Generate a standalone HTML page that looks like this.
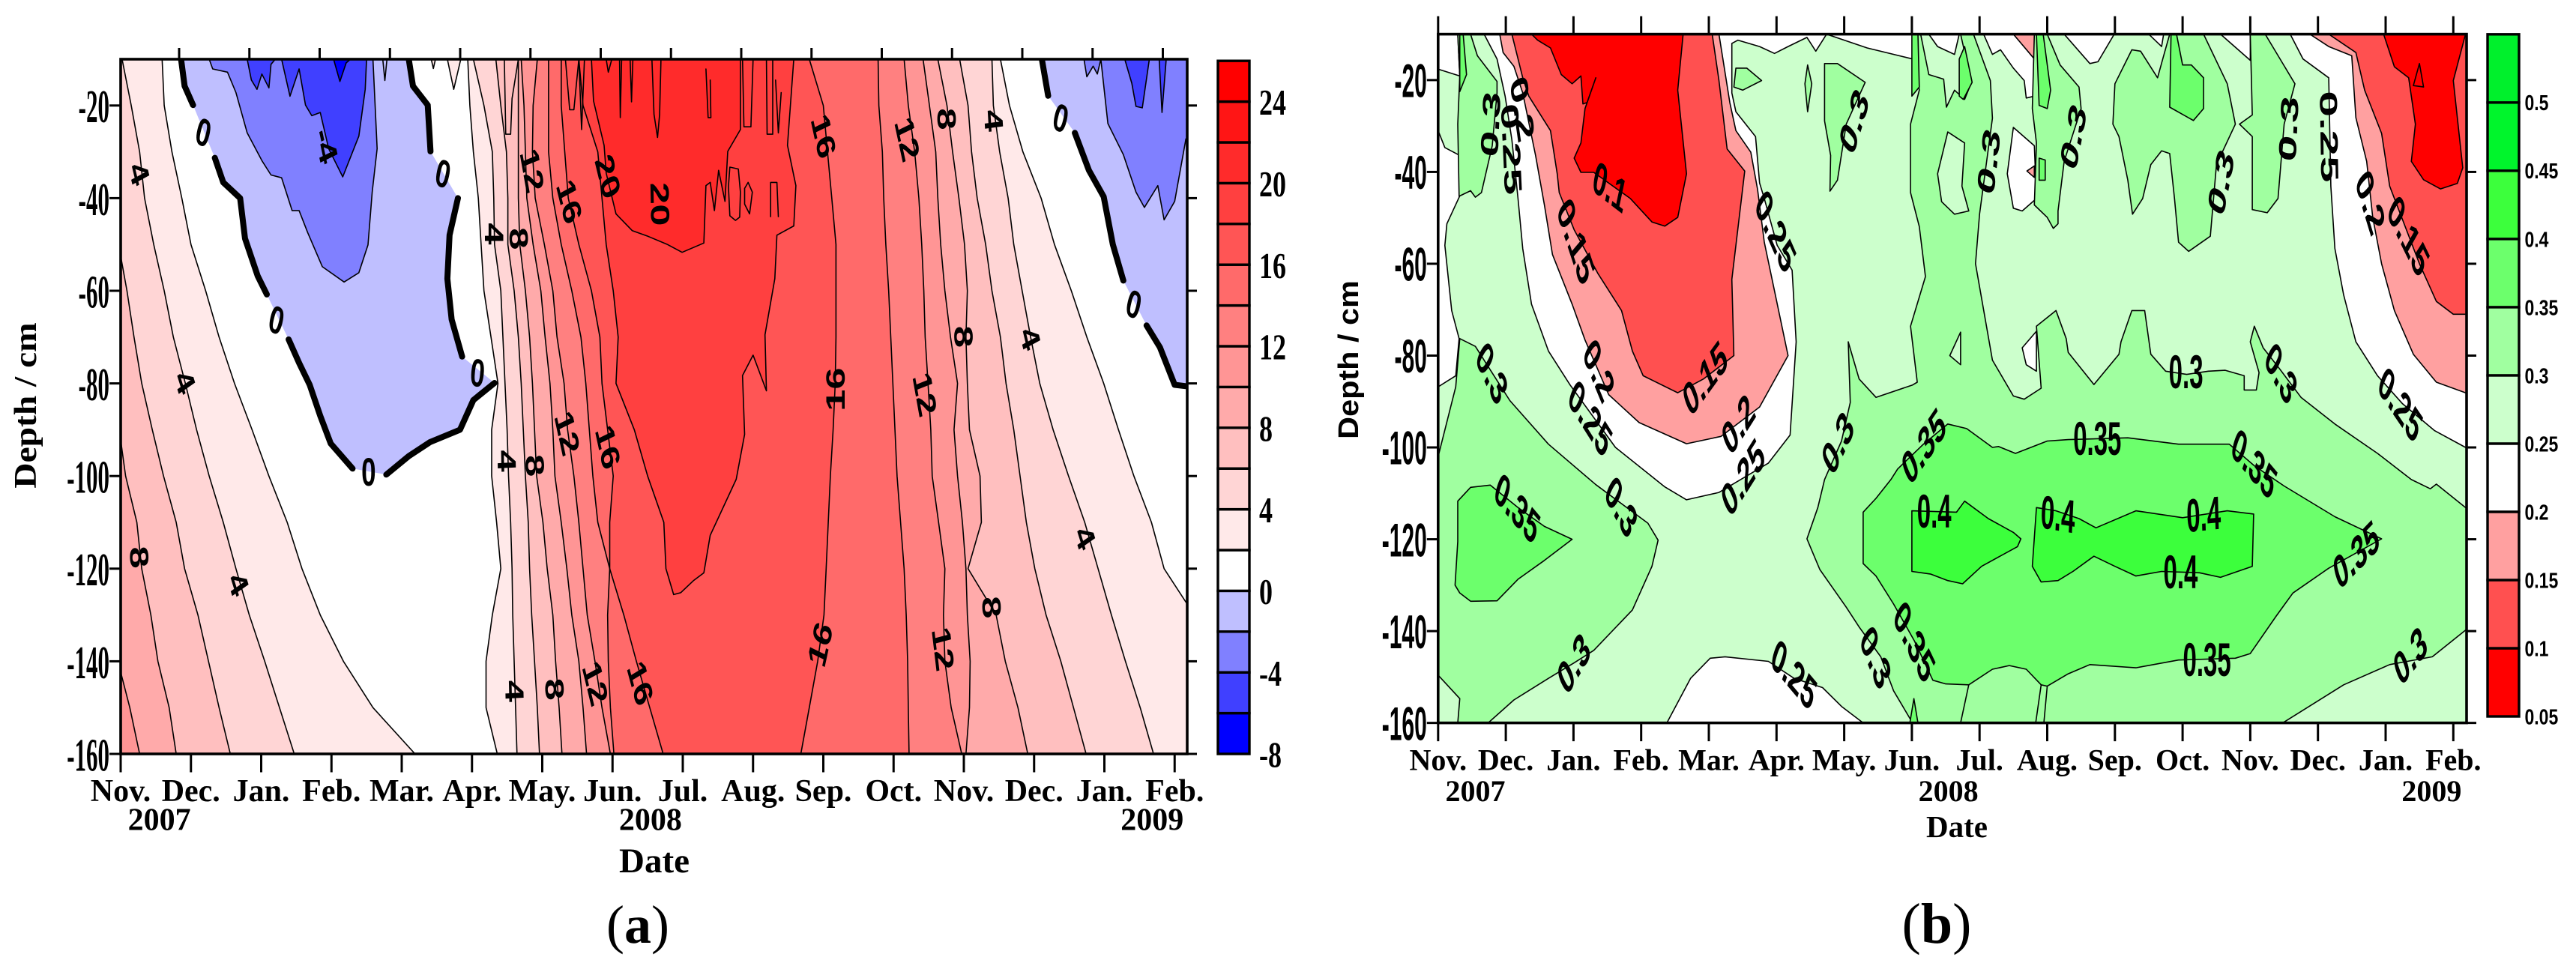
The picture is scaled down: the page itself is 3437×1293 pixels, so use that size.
<!DOCTYPE html>
<html lang="en">
<head>
<meta charset="utf-8">
<title>Soil temperature and moisture contour charts</title>
<style>
html,body{margin:0;padding:0;background:#fff;}
svg{display:block;}
.serif{font-family:"Liberation Serif",serif;font-weight:700;fill:#000;}
.sans{font-family:"Liberation Sans",sans-serif;font-weight:700;fill:#000;}
</style>
</head>
<body>
<svg id="fig" xmlns="http://www.w3.org/2000/svg" width="3437" height="1293" viewBox="0 0 3437 1293">
  <defs>
    <clipPath id="clipA"><rect x="161" y="79" width="1423" height="927"/></clipPath>
    <clipPath id="clipB"><rect x="1918.8" y="45.6" width="1372.2" height="919"/></clipPath>
  </defs>
  <g id="panelA"></g>
  <g id="panelB"></g>
  <text class="serif" font-size="42" text-anchor="middle" transform="translate(48,541) rotate(-90) scale(1.13,1)">Depth / cm</text>
  <text class="serif" font-size="47" x="873" y="1164" text-anchor="middle">Date</text>
  <text class="sans" font-size="38" text-anchor="middle" transform="translate(1812,480) rotate(-90) scale(1.09,1)">Depth / cm</text>
  <text class="serif" font-size="41" x="2611" y="1117" text-anchor="middle">Date</text>
  <text x="851" y="1258" text-anchor="middle" font-size="72" font-family="Liberation Serif, serif">(<tspan font-weight="700">a</tspan>)</text>
  <text x="2584" y="1258" text-anchor="middle" font-size="76" font-family="Liberation Serif, serif">(<tspan font-weight="700">b</tspan>)</text>
</svg>
<script>
/* ---------- shared axis data ---------- */
const monthLabels = ['Nov.','Dec.','Jan.','Feb.','Mar.','Apr.','May.','Jun.','Jul.','Aug.','Sep.','Oct.','Nov.','Dec.','Jan.','Feb.'];
const yearLabels = ['2007','2008','2009'];
const yearMonths = [0.55,7.54,14.68];
const depthTicks = [-20,-40,-60,-80,-100,-120,-140,-160];
const depthRows = [-10,-20,-30,-40,-50,-60,-70,-80,-90,-100,-110,-120,-130,-140,-150,-160];

/* ---------- panel (a): temperature ---------- */
const tempTicks = [-8,-4,0,4,8,12,16,20,24];
const tempLevels = [-8,-6,-4,-2,0,2,4,6,8,10,12,14,16,18,20,22,24,26];
const tempColors = ['#0000ff','#4040ff','#8080ff','#bfbfff','#ffffff','#ffe9e9','#ffd5d5','#ffbfbf','#ffaaaa','#ff9595','#ff8080','#ff6a6a','#ff5555','#ff4040','#ff2b2b','#ff1515','#ff0000'];

/* month position of each isotherm at every depth row: autumn-2007 cooling limb */
const coolT2 = [0.59,0.62,0.73,0.87,1.00,1.21,1.40,1.62,1.87,2.11,2.37,2.58,2.84,3.17,3.59,4.19];
const coolT4 = [0.02,0.15,0.27,0.34,0.47,0.62,0.75,0.92,1.08,1.26,1.46,1.64,1.83,2.05,2.26,2.47];
const coolT6 = [-1,-0.8,-0.5,-0.25,-0.03,0.09,0.19,0.30,0.45,0.61,0.79,0.91,1.10,1.25,1.40,1.56];
const coolT8 = [-2,-2,-1.6,-1.4,-1.2,-0.9,-0.6,-0.3,-0.02,0.07,0.23,0.30,0.43,0.53,0.69,0.79];
const coolT10 = [-3,-3,-3,-3,-3,-3,-3,-2,-2,-1.5,-1,-0.6,-0.2,-0.04,0.13,0.27];
/* spring-2008 warming limb */
const warmT2 = [4.94,4.97,5.02,5.09,5.13,5.17,5.27,5.37,5.28,5.28,5.35,5.41,5.29,5.20,5.20,5.36];
const warmT4 = [5.02,5.17,5.29,5.31,5.32,5.41,5.44,5.47,5.50,5.52,5.55,5.57,5.58,5.60,5.62,5.64];
const warmT6 = [5.34,5.41,5.49,5.51,5.51,5.60,5.66,5.70,5.73,5.76,5.80,5.82,5.85,5.89,5.93,5.96];
const warmT8 = [5.66,5.66,5.66,5.66,5.68,5.76,5.82,5.86,5.89,5.92,6.01,6.07,6.15,6.19,6.24,6.28];
const warmT10 = [5.70,5.74,5.76,5.78,5.87,5.98,6.04,6.11,6.15,6.18,6.27,6.35,6.42,6.52,6.58,6.63];
const warmT12 = [5.93,5.87,5.86,5.90,6.03,6.15,6.21,6.31,6.36,6.45,6.52,6.58,6.64,6.75,6.85,6.97];
const warmT14 = [6.09,6.09,6.09,6.15,6.27,6.42,6.55,6.62,6.67,6.72,6.79,6.96,6.93,6.94,6.97,7.02];
const warmT16 = [6.27,6.27,6.32,6.37,6.52,6.70,6.82,6.85,6.93,7.01,6.96,6.96,7.16,7.34,7.53,7.72];
/* autumn-2008 cooling limb */
const fallT2 = [12.52,12.65,12.84,13.10,13.29,13.53,13.75,13.99,14.20,14.42,14.67,14.85,15.28,15.62,15.98,16.35];
const fallT4 = [12.40,12.42,12.51,12.63,12.71,12.83,12.95,13.08,13.27,13.49,13.72,13.91,14.10,14.30,14.51,14.70];
const fallT6 = [11.94,12.06,12.11,12.19,12.31,12.40,12.52,12.60,12.71,12.80,12.89,13.01,13.17,13.38,13.56,13.74];
const fallT8 = [11.63,11.76,11.84,11.93,12.01,12.05,12.03,12.05,12.08,12.23,12.25,12.06,12.46,12.59,12.77,12.91];
const fallT10 = [11.42,11.51,11.60,11.63,11.67,11.73,11.81,11.91,11.86,11.91,11.98,12.03,12.05,12.09,12.08,12.03];
const fallT12 = [11.15,11.21,11.30,11.36,11.40,11.43,11.45,11.49,11.53,11.55,11.64,11.73,11.71,11.73,11.82,11.97];
const fallT14 = [10.78,10.79,10.84,10.86,10.89,10.93,10.96,10.99,11.02,11.05,11.10,11.15,11.18,11.20,11.21,11.22];
const fallT16 = [9.80,10.00,10.06,10.12,10.18,10.18,10.18,10.17,10.14,10.10,10.07,10.04,10.01,9.92,9.80,9.68];
/* closed warm cores, as [month, depth] */
const coreT18 = [[6.52,-10],[6.58,-20],[6.79,-30],[6.85,-40],[6.91,-50],[7.01,-60],[7.08,-70],[7.05,-80],[7.31,-90],[7.50,-100],[7.73,-110],[7.76,-120],[7.87,-125.6],[7.97,-125.2],[8.15,-122.6],[8.30,-120.9],[8.39,-112.8],[8.76,-100.7],[8.88,-91],[8.85,-78.3],[9.00,-73.9],[9.19,-81.6],[9.17,-69.5],[9.31,-57.4],[9.34,-48],[9.58,-46],[9.61,-37.3],[9.49,-28.6],[9.58,-10]];
const coreT20 = [[6.70,-10],[6.73,-19],[6.88,-28.6],[6.91,-34.6],[7.05,-43.4],[7.28,-47],[7.50,-48.2],[7.53,-48.4],[7.78,-50],[7.99,-51.7],[8.30,-49.7],[8.33,-37.3],[8.39,-36.6],[8.45,-42.7],[8.51,-34],[8.60,-40.7],[8.64,-29.9],[8.82,-25.2],[8.82,-10]];
const springSpike = [[4.65,-10],[4.74,-16.5],[4.84,-10]];
const springSpikeSmall = [[4.42,-10],[4.45,-12],[4.48,-10]];
/* 0 degree isotherm pieces, label gaps between them */
const frostWinterA = [[0.86,-10],[0.91,-15.8],[1.03,-19.9]];
const frostWinterB = [[1.34,-31.3],[1.46,-36.6],[1.70,-40],[1.77,-48.7],[1.95,-56.8],[2.08,-60.8]];
const frostWinterC = [[2.39,-70.5],[2.54,-75.6],[2.69,-80.3],[2.84,-87],[2.99,-93],[3.30,-98.4]];
const frostWinterD = [[3.78,-99.7],[4.10,-95.7],[4.40,-92.7],[4.83,-90],[5.02,-83.6],[5.32,-79.9]];
const frostWinterE = [[4.86,-74.2],[4.71,-66.2],[4.65,-57.4],[4.68,-48],[4.80,-40]];
const frostWinterF = [[4.41,-29.9],[4.37,-19.9],[4.16,-15.8],[4.10,-10]];
const frostNextA = [[13.11,-10],[13.20,-17.9]];
const frostNextB = [[13.58,-25.9],[13.78,-34],[13.99,-39.7],[14.12,-50],[14.27,-57.8]];
const frostNextC = [[14.60,-67.5],[14.79,-72.2],[15.00,-80.3],[15.16,-80.6]];
/* sub-zero regions */
const coldM2 = [[1.26,-10],[1.31,-12.1],[1.52,-12.8],[1.64,-17.2],[1.80,-25.9],[2.01,-31.9],[2.14,-35],[2.29,-35.6],[2.44,-42.7],[2.54,-42.7],[2.66,-47.4],[2.87,-54.8],[3.18,-58.1],[3.39,-56.1],[3.52,-50.1],[3.58,-38.7],[3.65,-29.3],[3.59,-10]];
const coldM4a = [[1.80,-10],[1.86,-14.5],[1.94,-16.5],[2.01,-13.2],[2.11,-16.2],[2.14,-11.1],[2.20,-10]];
const coldM4b = [[2.29,-10],[2.41,-18],[2.54,-12.1],[2.63,-19.9],[2.72,-22.2],[2.84,-21.5],[2.96,-29.3],[3.16,-35.4],[3.39,-26.6],[3.48,-16.5],[3.50,-10]];
const coldM6 = [[3.03,-10],[3.12,-14.8],[3.21,-10.8],[3.27,-10]];
const nextM2 = [[13.95,-10],[14.05,-23.9],[14.27,-30.6],[14.45,-38.7],[14.57,-42],[14.76,-37.3],[14.85,-44.7],[15.00,-40.7],[15.16,-27.2],[15.4,-27],[15.4,-10]];
const nextM2Patch = [[13.71,-10],[13.75,-13.8],[13.84,-11.5],[13.90,-13.2],[13.95,-10]];
const nextM4a = [[14.29,-10],[14.39,-15.2],[14.45,-20.2],[14.54,-20.5],[14.64,-10]];
const nextM4b = [[14.78,-10],[14.82,-21.5],[14.88,-10]];
/* short near-surface contour fragments */
const tempFragments = [
  [[8.67,-33.3],[8.79,-33.7],[8.82,-38.7],[8.81,-44.1],[8.75,-44.8],[8.67,-43.8],[8.65,-37.5],[8.67,-33.3]],
  [[8.93,-36.6],[8.99,-38.7],[8.95,-43.4],[8.88,-41.3],[8.88,-37.9],[8.93,-36.6]],
  [[9.25,-44],[9.25,-36.6],[9.34,-36.6],[9.36,-44]],
  [[8.85,-10],[8.87,-24.6],[8.97,-24.6],[9.00,-10]],
  [[9.19,-10],[9.20,-26.2],[9.28,-26.2],[9.28,-10]],
  [[9.32,-14.5],[9.36,-25.9],[9.40,-17.2]],
  [[7.56,-10],[7.59,-21.9],[7.64,-26.9],[7.67,-21.9],[7.69,-10]],
  [[8.33,-12.1],[8.36,-22.6],[8.40,-22.6],[8.39,-14.5]],
  [[6.33,-10],[6.39,-20.9],[6.45,-20.9],[6.52,-10]],
  [[6.52,-10],[6.56,-25.2],[6.60,-10]],
  [[7.10,-10],[7.11,-22.6],[7.13,-10]],
  [[7.25,-10],[7.27,-19.2],[7.29,-10]],
  [[6.91,-10],[6.94,-12.8],[6.99,-10]],
  [[5.46,-10],[5.48,-26.2],[5.55,-26.2],[5.57,-18.5],[5.66,-10]],
  [[3.73,-10],[3.76,-14.6],[3.79,-10]]
];
const tempLabelText = ['4','4','8','4','0','0','0','0','0','0','0','-4','4','8','12','16','20','20','4','8','12','16','4','8','12','16','16','12','8','4','16','12','8','4','16','12','8','4'];
const tempLabelMonth = [0.27,0.92,0.27,1.68,1.18,2.22,3.53,5.08,4.59,13.38,14.42,2.93,5.32,5.67,5.86,6.39,6.94,7.68,5.50,5.90,6.36,6.94,5.61,6.18,6.76,7.40,10.01,11.20,11.76,12.43,10.17,11.45,12.00,12.95,9.95,11.71,12.40,13.73];
const tempLabelDepth = [-34.6,-79.6,-117.5,-123.2,-25.7,-66.2,-99,-77.6,-34.6,-22.6,-62.8,-28.6,-47.7,-48.7,-34,-40.7,-35.3,-41.3,-96.7,-97.7,-90.7,-93.7,-146.4,-146,-144.7,-144.7,-26.6,-27.2,-22.9,-23.2,-81.3,-82.3,-69.9,-70.2,-136.3,-137.3,-128.3,-113.2];
const tempLabelAngle = [70,65,85,65,20,20,0,8,18,20,20,72,90,85,75,70,70,88,88,85,72,72,88,85,70,68,72,72,88,85,-90,75,88,70,-72,80,85,65];

/* ---------- panel (b): soil moisture ---------- */
const moistTicks = [0.05,0.1,0.15,0.2,0.25,0.3,0.35,0.4,0.45,0.5];
const moistLevels = [0.05,0.1,0.15,0.2,0.25,0.3,0.35,0.4,0.45,0.5,0.55];
const moistColors = ['#ff0000','#ff5050','#ffa0a0','#ffffff','#ccffcc','#a0ffa0','#6cff6c','#3cff3c','#00f52c','#00f02c'];
const dryTopLeft = [[0,-10],[0.29,-10],[0.32,-19.1],[0,-17.6]];
const dryLeft = [[0,-31],[0.10,-34.7],[0.32,-36.4],[0.32,-45.2],[0.13,-51.3],[0.10,-56],[0.20,-70.2],[0.31,-76.3],[0.26,-84.4],[0,-86.8]];
const dryU = [[0.68,-10],[0.87,-15.4],[0.99,-23.5],[1.09,-33],[1.18,-45.8],[1.25,-56.7],[1.38,-68.8],[1.63,-79],[1.95,-86.4],[2.62,-100],[3.35,-108.6],[3.67,-111.4],[4.15,-109.8],[4.88,-103.4],[5.20,-97.3],[5.29,-77],[5.23,-61.4],[5.01,-56],[4.82,-45.8],[4.75,-42.4],[4.69,-32.3],[4.40,-26.9],[4.34,-22.8],[4.34,-12],[4.43,-11.3],[4.75,-12.7],[4.97,-14.2],[5.17,-12.7],[5.45,-10.7],[5.58,-13.7],[5.74,-10],[6.34,-13],[7.01,-15.4],[7.01,-10]];
const dryArch = [[3.38,-160],[3.73,-150.3],[4.02,-145.9],[4.24,-145.6],[4.88,-146.6],[5.26,-150.3],[5.68,-152.3],[5.96,-156.4],[6.28,-160]];
const dryStrip1 = [[7.25,-10],[7.38,-12.7],[7.63,-14.4],[7.70,-10]];
const dryStrip2 = [[8.06,-10],[8.19,-14.4],[8.31,-13.4],[8.50,-17.4],[8.66,-20.1],[8.69,-23.9],[8.81,-23.5],[8.81,-10]];
const dryStrip3 = [[9.25,-10],[9.63,-16.4],[9.75,-16],[9.99,-10]];
const dryStrip4 = [[10.5,-10],[10.69,-12.7],[10.72,-10]];
const dryStrip5 = [[11.56,-10],[12,-15.7],[12,-10]];
const dryPocket1 = [[8.5,-30.3],[8.81,-34.3],[8.84,-45.8],[8.63,-48.5],[8.5,-47.9],[8.41,-40.4]];
const dryPocket2 = [[8.84,-74.7],[8.63,-78.3],[8.69,-82],[8.84,-83.4]];
const dryRight = [[12.59,-10],[12.78,-15.4],[13.16,-19.5],[13.19,-43.1],[13.25,-56.7],[13.38,-66.8],[13.56,-77],[13.88,-84.4],[14.25,-90.5],[14.72,-96.3],[15.18,-100],[15.4,-100],[15.4,-10]];
const below20U = [[0.91,-10],[0.96,-14],[1.12,-17],[1.25,-22.8],[1.44,-36.4],[1.57,-47.2],[1.69,-58],[1.98,-68.8],[2.17,-76.6],[2.52,-88.5],[2.97,-94.6],[3.67,-99.2],[4.18,-97.6],[4.75,-91.2],[5.17,-80],[4.82,-55.3],[4.72,-43.8],[4.62,-35.7],[4.40,-31],[4.31,-24.9],[4.15,-10]];
const below20Tip = [[8.5,-10],[8.81,-10],[8.81,-15.4]];
const below20Dot = [[8.7,-39.8],[8.81,-38.7],[8.81,-41.2]];
const below20Right = [[12.88,-10],[13.16,-12.7],[13.5,-14.7],[13.56,-28.2],[13.72,-37.7],[13.81,-49.9],[13.94,-60],[14.13,-70.2],[14.41,-79.7],[14.75,-85.8],[15.18,-88.1],[15.4,-88.1],[15.4,-10]];
const below15U = [[1.09,-10],[1.25,-19.5],[1.34,-23.5],[1.66,-31],[1.76,-40.4],[1.79,-44.5],[2.01,-52.6],[2.36,-62.1],[2.71,-70.2],[2.87,-79],[3.03,-84.4],[3.54,-88.1],[3.92,-85.1],[4.37,-80],[4.34,-63.4],[4.53,-39.8],[4.27,-35],[4.15,-20.1],[4.05,-10]];
const below15Right = [[13.16,-10],[13.56,-14],[13.69,-22.2],[13.94,-31.6],[14.06,-43.1],[14.5,-60],[14.75,-68.2],[15,-71],[15.18,-71],[15.4,-71],[15.4,-10]];
const below10U = [[1.38,-10],[1.47,-11.3],[1.66,-13],[1.82,-18.8],[1.98,-20.8],[2.11,-19.1],[2.14,-25.2],[2.2,-24.9],[2.33,-19.5],[2.17,-26.2],[2.11,-33.7],[2.01,-37],[2.11,-40.1],[2.3,-40.1],[2.84,-45.8],[3.16,-50.9],[3.35,-51.8],[3.54,-49.9],[3.67,-40.4],[3.54,-22.2],[3.62,-10]];
const below10Right = [[13.97,-10],[14.13,-17.1],[14.34,-19.5],[14.44,-29.6],[14.38,-37.7],[14.56,-41.7],[14.81,-43.7],[15.06,-42.5],[15.14,-39.1],[15,-20.1],[15.18,-10]];
const wet30TopLeft = [[0.29,-10],[0.48,-10],[0.58,-14.7],[0.87,-20.3],[0.87,-22.8],[0.80,-34.3],[0.64,-44.5],[0.55,-45.5],[0.48,-44.1],[0.31,-45.3],[0.29,-29.6],[0.32,-19.1]];
const wet35TopLeft = [[0.32,-10],[0.37,-10],[0.42,-18.8],[0.32,-22.5]];
const wet30Left = [[-0.1,-102],[0,-102],[0.26,-86.8],[0.32,-76.3],[0.55,-78],[0.74,-82.4],[1.06,-89.8],[1.63,-99.3],[2.33,-108.1],[3.10,-116.5],[3.25,-120.2],[3.16,-125.9],[2.87,-135.4],[2.30,-144.2],[2.01,-146.9],[1.63,-150.3],[1.12,-155],[0.74,-160],[0.29,-160],[0.32,-154.7],[0,-149.6],[-0.1,-149.6]];
const wet35Left = [[0.29,-111.7],[0.48,-108.7],[0.77,-108.2],[1.18,-113.1],[1.57,-117.2],[1.98,-120],[1.57,-124.6],[1.18,-128.7],[0.87,-133.4],[0.48,-133.5],[0.32,-131.7],[0.25,-130],[0.29,-120.5]];
const wet30Center = [[7,-10],[7.13,-10],[7.25,-18.8],[7.47,-19.8],[7.51,-25.9],[7.63,-22.2],[7.78,-24.2],[7.88,-20.5],[7.72,-10],[7.91,-10],[8.16,-20.1],[8.19,-28.3],[8,-49.2],[7.94,-60],[8.19,-81],[8.5,-88.8],[8.66,-89.5],[8.91,-87.1],[8.84,-73.6],[9.13,-70.2],[9.28,-76.3],[9.31,-79.3],[9.69,-86.3],[10.06,-79.7],[10.09,-77],[10.25,-70.2],[10.44,-70.2],[10.53,-79.7],[10.75,-83.4],[11.06,-84.1],[11.38,-83.4],[11.63,-83.2],[11.91,-84.4],[11.91,-87.5],[12.09,-87.5],[12.13,-83.7],[12,-77],[12.06,-73.6],[12.19,-78.3],[12.44,-83],[12.75,-89.1],[13.25,-94.9],[13.88,-101.3],[14.38,-107],[14.66,-109],[14.75,-108],[15.18,-113.1],[15.4,-113],[15.4,-140],[15.18,-139.8],[14.69,-145.6],[14.06,-147.3],[13.38,-151.7],[12.48,-160],[7.01,-160],[6.73,-153],[6.54,-145.6],[6.22,-139.1],[6.03,-134.8],[5.64,-126.6],[5.45,-119.9],[5.61,-113.1],[5.71,-107],[5.96,-98.6],[6.09,-90.2],[6.06,-77],[6.22,-85.1],[6.47,-89.1],[7.01,-86.4],[7.08,-85.8],[6.98,-73.6],[7.20,-62.8],[7.11,-51.9],[6.98,-44.5],[6.98,-29.6],[7.11,-22.2],[7.01,-10]];
const gap25a = [[7.53,-31.3],[7.78,-33.7],[7.74,-43.1],[7.84,-48.5],[7.63,-49.2],[7.44,-46.5],[7.38,-40.4]];
const gap25b = [[7.72,-74.9],[7.56,-80],[7.72,-82]];
const wet30Jul = [[8.81,-10],[8.78,-26.2],[8.84,-33.7],[8.81,-47.2],[9,-49.9],[9.09,-52.3],[9.16,-51.3],[9.16,-48.5],[9.25,-37.7],[9.5,-26.2],[9.47,-21.5],[9.19,-16.7],[9,-10]];
const wet35Jul = [[8.84,-10],[8.88,-25.5],[9,-26.2],[9.05,-22.2],[8.94,-10]];
const wet35JulDot = [[8.88,-37],[8.97,-37.4],[8.97,-41.8],[8.88,-41.8]];
const wet30Sep = [[10,-20.8],[10.25,-13.4],[10.38,-13.7],[10.63,-19.5],[10.72,-14.7],[10.81,-10],[11.31,-10],[11.66,-20.8],[11.78,-29.6],[11.5,-38.4],[11.41,-54],[11.09,-57.3],[10.94,-55.3],[10.88,-45.8],[10.81,-36],[10.69,-35.4],[10.53,-38.4],[10.41,-45.8],[10.26,-49.2],[10.19,-41.8],[10.06,-32.3],[9.97,-29.6]];
const wet35Sep = [[10.83,-10],[10.91,-10],[11,-16.7],[11.13,-16.7],[11.31,-19.5],[11.31,-26.2],[11.16,-28.8],[10.81,-25.9]];
const wet30Nov = [[12,-10],[12.22,-10],[12.66,-20.8],[12.5,-29.6],[12.41,-45.8],[12.25,-48.9],[12.03,-48.2],[12.03,-32.3],[11.84,-29.6],[12.03,-27.6]];
const wet30Mar = [[4.40,-17.4],[4.56,-17.4],[4.78,-20.1],[4.50,-22.2],[4.37,-21.5]];
const wet30May = [[5.71,-16.4],[5.90,-16.4],[6.31,-20.5],[6.03,-29.6],[5.90,-41.8],[5.79,-44.2],[5.80,-36.4],[5.71,-28.9]];
const wet30Sliver = [[5.46,-16.7],[5.42,-20.8],[5.46,-26.9],[5.52,-20.8]];
const wet35JunA = [[7,-10],[7.09,-10],[7.11,-21.5],[7,-23.5]];
const wet35JunB = [[7.70,-15.4],[7.78,-12.7],[7.89,-20.5],[7.76,-24.2],[7.70,-23.5]];
const wet35Sliver = [[7.03,-154.7],[7.09,-160],[6.97,-160]];
const wet35Center = [[7.53,-94.9],[7.81,-95.9],[8.19,-100],[8.28,-99.8],[8.53,-101.3],[9,-98.6],[9.31,-98.3],[10.19,-97.9],[10.94,-99.3],[11.69,-99.3],[12.06,-104],[12.5,-108.4],[13.25,-115.1],[13.94,-119.9],[13.16,-126.3],[12.63,-131.7],[12.38,-136.8],[12,-144.9],[11.78,-145.9],[10.94,-146.3],[10.31,-148],[9.63,-147.3],[9.31,-149.3],[9,-152],[8.91,-151.7],[8.69,-148.3],[8.44,-147.5],[8.19,-148.3],[7.84,-151.7],[7.5,-151.5],[7.31,-150.7],[7.04,-142.2],[6.73,-134.1],[6.47,-128],[6.28,-125.3],[6.28,-114.1],[6.47,-111.1],[6.69,-107],[6.79,-104.7],[7.17,-99.3]];
const wet40Jun = [[7,-113.8],[7,-127],[7.28,-127.6],[7.53,-129],[7.75,-129.7],[8.03,-125.9],[8.56,-121.6],[8.61,-119.9],[8.5,-118.5],[8.13,-115.5],[7.78,-111.7],[7.66,-114.1]];
const wet40Sep = [[8.84,-113.1],[8.78,-125.9],[8.91,-129.3],[9.16,-129],[9.38,-127],[9.69,-123.7],[10,-125.9],[10.31,-128],[10.69,-127],[11.25,-127.3],[11.56,-128.3],[12.03,-125.9],[12.05,-114.5],[11.66,-113.8],[11,-115.3],[10.31,-113.8],[9.72,-117.5],[9.47,-115.5],[9.13,-113.8]];
const moistFragments = [
  [[7.84,-151.7],[7.72,-160]],
  [[8.91,-151.7],[8.83,-160]],
  [[9,-152],[8.95,-160]],
  [[14.41,-21.2],[14.5,-16.4],[14.56,-21.5],[14.41,-21.2]]
];
const moistLabelText = ['0.3','0.2','0.25','0.1','0.15','0.25','0.15','0.2','0.25','0.2','0.25','0.3','0.3','0.35','0.3','0.35','0.3','0.3','0.25','0.3','0.35','0.4','0.4','0.4','0.4','0.35','0.35','0.3','0.35','0.35','0.3','0.3','0.25','0.2','0.15','0.25','0.3','0.3','0.3','0.3'];
const moistLabelMonth = [0.77,1.25,1.09,2.54,2.04,4.99,3.94,4.43,4.5,2.38,2.25,0.80,5.90,7.17,6.14,1.17,2.71,2.00,5.26,6.47,7.04,7.33,9.16,11.31,10.97,13.56,11.36,14.36,9.74,12.06,11.05,12.46,14.22,13.78,14.34,13.17,12.56,11.56,9.38,8.13];
const moistLabelDepth = [-29.6,-26.2,-35,-43.1,-55,-52.8,-84.8,-94.8,-106.4,-83.1,-93.5,-83.7,-98.9,-99.6,-28.9,-113.1,-112.8,-146.9,-149.3,-145.6,-142.2,-113.8,-114.4,-114.4,-127,-123.2,-146.1,-145.2,-97.9,-103.4,-83.4,-83.7,-90.5,-46.5,-53.8,-32.3,-30.6,-42.2,-32.3,-37.7];
const moistLabelAngle = [-85,75,85,22,58,50,-36,-40,-40,52,40,49,-48,-38,-60,32,45,-42,32,53,48,0,5,-3,0,-29,0,-35,0,32,0,45,38,60,47,88,-85,-70,-70,-78];

/* ---------- axis functions ---------- */
const xA = m => 161 + m * 93.75;
const yA = d => 79 + (-10 - d) * 6.18;
const xB = m => 1918.8 + m * 90.3;
const yB = d => 45.6 + (-10 - d) * 6.127;
const barA = v => 1006 - (v + 8) * 27.2;
const barB = v => 956 - (v - 0.05) * 1820.4;

const NS = 'http://www.w3.org/2000/svg';
function add(parent, tag, attrs) {
  const el = document.createElementNS(NS, tag);
  for (const k in attrs) el.setAttribute(k, attrs[k]);
  parent.appendChild(el);
  return el;
}
function pathOf(points, sx, sy, closed) {
  return points.map((p, i) => (i ? 'L' : 'M') + sx(p[0]).toFixed(1) + ' ' + sy(p[1]).toFixed(1)).join('') + (closed ? 'Z' : '');
}
function rowsToPoints(months) {
  return months.map((m, i) => [m, depthRows[i]]);
}
function fillRegion(g, points, color, sx, sy, outlined) {
  const el = add(g, 'path', {d: pathOf(points, sx, sy, true), fill: color, stroke: outlined ? '#000' : 'none', 'stroke-width': 1.6, 'stroke-linejoin': 'round'});
  
  
  return el;
}
function drawLine(g, points, sx, sy, width) {
  const el = add(g, 'path', {d: pathOf(points, sx, sy, false), fill: 'none', stroke: '#000', 'stroke-width': width, 'stroke-linecap': 'round', 'stroke-linejoin': 'round'});
  
  
  return el;
}
function stretchedText(parent, txt, x, y, size, stretch, angle, cls, anchor) {
  const el = add(parent, 'text', {class: cls, 'font-size': size, 'text-anchor': anchor, y: (size * 0.36).toFixed(1), transform: 'translate(' + x.toFixed(1) + ',' + y.toFixed(1) + ') scale(1,' + stretch + ') rotate(' + angle + ')'});
  el.textContent = txt;
  return el;
}
function drawAxes(g, cfg) {
  const frame = add(g, 'rect', {x: cfg.left, y: cfg.top, width: cfg.right - cfg.left, height: cfg.bottom - cfg.top, fill: 'none', stroke: '#000', 'stroke-width': 3.6});
  
  
  monthLabels.forEach((label, i) => {
    const bt = add(g, 'line', {x1: cfg.sx(i), x2: cfg.sx(i), y1: cfg.bottom, y2: cfg.bottom + 24.5, stroke: '#000', 'stroke-width': 3});
    
    
    const topX = cfg.sx(i + cfg.topShift);
    if (topX < cfg.right) {
      const tt = add(g, 'line', {x1: topX, x2: topX, y1: cfg.top, y2: cfg.top - cfg.topTick, stroke: '#000', 'stroke-width': 3});
      
      
    }
    const t = add(g, 'text', {class: 'serif', x: cfg.sx(i), y: cfg.monthBase, 'text-anchor': 'middle', 'font-size': cfg.monthSize});
    t.textContent = label;
    
    
  });
  yearLabels.forEach((label, i) => {
    const t = add(g, 'text', {class: 'serif', x: cfg.sx(yearMonths[i]), y: cfg.yearBase, 'text-anchor': 'middle', 'font-size': cfg.monthSize});
    t.textContent = label;
    
    
  });
  depthTicks.forEach(d => {
    const y = cfg.sy(d);
    const lt = add(g, 'line', {x1: cfg.left - 15, x2: cfg.left, y1: y, y2: y, stroke: '#000', 'stroke-width': 3});
    
    
    const rt = add(g, 'line', {x1: cfg.right, x2: cfg.right + 13, y1: y, y2: y, stroke: '#000', 'stroke-width': 3});
    
    
    const t = stretchedText(g, String(d), cfg.left - 15, y, cfg.depthSize, cfg.depthStretch, 0, cfg.depthClass, 'end');
    
    
  });
}
function drawBar(g, levels, colors, scale, x, w) {
  colors.forEach((c, i) => {
    const top = scale(levels[i + 1]);
    const r = add(g, 'rect', {x: x, y: top, width: w, height: scale(levels[i]) - top, fill: c, stroke: '#000', 'stroke-width': 3.4});
    
    
  });
}
function drawLabels(g, texts, months, depths, angles, sx, sy, size, stretch) {
  texts.forEach((txt, i) => {
    const t = stretchedText(g, txt, sx(months[i]), sy(depths[i]), size, stretch, angles[i], 'sans', 'middle');
    
    
  });
}
const colorA = level => tempColors[tempLevels.indexOf(level)];
const colorB = level => moistColors[moistLevels.indexOf(level)];

/* ---------- render panel (a) ---------- */
const gA = document.getElementById('panelA');
const fieldA = add(gA, 'g', {'clip-path': 'url(#clipA)'});


const plotBaseA = add(fieldA, 'rect', {x: 161, y: 79, width: 1423, height: 927, fill: colorA(0)});


const coolLimbs = [[2,coolT2],[4,coolT4],[6,coolT6],[8,coolT8],[10,coolT10]];
const warmLimbs = [[2,warmT2,fallT2],[4,warmT4,fallT4],[6,warmT6,fallT6],[8,warmT8,fallT8],[10,warmT10,fallT10],[12,warmT12,fallT12],[14,warmT14,fallT14],[16,warmT16,fallT16]];
[2,4,6,8,10,12,14,16].forEach(level => {
  const cool = coolLimbs.find(c => c[0] === level);
  if (cool) {
    const pts = rowsToPoints(cool[1]);
    fillRegion(fieldA, [[-4,-10]].concat(pts, [[-4,-160]]), colorA(level), xA, yA, false);
  }
  const warm = warmLimbs.find(c => c[0] === level);
  const rise = rowsToPoints(warm[1]);
  const fall = rowsToPoints(warm[2]).reverse();
  fillRegion(fieldA, rise.concat(fall), colorA(level), xA, yA, false);
});
fillRegion(fieldA, coreT18, colorA(18), xA, yA, true);
fillRegion(fieldA, coreT20, colorA(20), xA, yA, true);
fillRegion(fieldA, springSpike, colorA(2), xA, yA, true);
fillRegion(fieldA, springSpikeSmall, colorA(2), xA, yA, true);
const frostWinter = [frostWinterA, frostWinterB, frostWinterC, frostWinterD, frostWinterE, frostWinterF];
const frostNext = [frostNextA, frostNextB, frostNextC];
fillRegion(fieldA, [].concat(...frostWinter), colorA(-2), xA, yA, false);
fillRegion(fieldA, [].concat(...frostNext, [[15.4,-80.6],[15.4,-10]]), colorA(-2), xA, yA, false);
[coldM2, nextM2, nextM2Patch].forEach(p => fillRegion(fieldA, p, colorA(-4), xA, yA, true));
[coldM4a, coldM4b, nextM4a, nextM4b].forEach(p => fillRegion(fieldA, p, colorA(-6), xA, yA, true));
fillRegion(fieldA, coldM6, colorA(-8), xA, yA, true);
[coolT2, coolT4, coolT6, coolT8, coolT10, warmT2, warmT4, warmT6, warmT8, warmT10, warmT12, warmT14, warmT16, fallT2, fallT4, fallT6, fallT8, fallT10, fallT12, fallT14, fallT16].forEach(m => drawLine(fieldA, rowsToPoints(m), xA, yA, 1.6));
tempFragments.forEach(f => drawLine(fieldA, f, xA, yA, 1.6));
frostWinter.concat(frostNext).forEach(s => drawLine(fieldA, s, xA, yA, 8));
drawLabels(fieldA, tempLabelText, tempLabelMonth, tempLabelDepth, tempLabelAngle, xA, yA, 35, 1.5);
drawAxes(gA, {left: 161, right: 1584, top: 79, bottom: 1006, sx: xA, sy: yA, topShift: 0.832, topTick: 15, monthBase: 1069, yearBase: 1107.5, monthSize: 42, depthSize: 31, depthStretch: 2, depthClass: 'serif'});
const barGroupA = add(gA, 'g', {});


drawBar(barGroupA, tempLevels, tempColors, barA, 1625, 42);
tempTicks.forEach(v => {
  const t = stretchedText(barGroupA, String(v), 1680, barA(v), 36, 1.35, 0, 'serif', 'start');
  
  
});

/* ---------- render panel (b) ---------- */
const gB = document.getElementById('panelB');
const fieldB = add(gB, 'g', {'clip-path': 'url(#clipB)'});


const plotBaseB = add(fieldB, 'rect', {x: 1918.8, y: 45.6, width: 1372.2, height: 919, fill: colorB(0.25)});


[dryTopLeft, dryLeft, dryU, dryArch, dryStrip1, dryStrip2, dryStrip3, dryStrip4, dryStrip5, dryPocket1, dryPocket2, dryRight].forEach(p => fillRegion(fieldB, p, colorB(0.2), xB, yB, true));
[below20U, below20Tip, below20Dot, below20Right].forEach(p => fillRegion(fieldB, p, colorB(0.15), xB, yB, true));
[below15U, below15Right].forEach(p => fillRegion(fieldB, p, colorB(0.1), xB, yB, true));
[below10U, below10Right].forEach(p => fillRegion(fieldB, p, colorB(0.05), xB, yB, true));
[wet30TopLeft, wet30Left, wet30Center, wet30Jul, wet30Sep, wet30Nov, wet30Mar, wet30May, wet30Sliver].forEach(p => fillRegion(fieldB, p, colorB(0.3), xB, yB, true));
[gap25a, gap25b].forEach(p => fillRegion(fieldB, p, colorB(0.25), xB, yB, true));
[wet35TopLeft, wet35Left, wet35Center, wet35Jul, wet35JulDot, wet35Sep, wet35JunA, wet35JunB, wet35Sliver].forEach(p => fillRegion(fieldB, p, colorB(0.35), xB, yB, true));
[wet40Jun, wet40Sep].forEach(p => fillRegion(fieldB, p, colorB(0.4), xB, yB, true));
moistFragments.forEach(f => drawLine(fieldB, f, xB, yB, 1.6));
drawLabels(fieldB, moistLabelText, moistLabelMonth, moistLabelDepth, moistLabelAngle, xB, yB, 33, 1.9);
drawAxes(gB, {left: 1918.8, right: 3291, top: 45.6, bottom: 964.6, sx: xB, sy: yB, topShift: 0, topTick: 24, monthBase: 1027.5, yearBase: 1069, monthSize: 40, depthSize: 30, depthStretch: 2.1, depthClass: 'sans'});
const barGroupB = add(gB, 'g', {});


drawBar(barGroupB, moistLevels, moistColors, barB, 3319, 42);
moistTicks.forEach(v => {
  const t = stretchedText(barGroupB, String(v), 3368.5, barB(v), 23, 1.25, 0, 'sans', 'start');
  
  
});
</script>
</body>
</html>
